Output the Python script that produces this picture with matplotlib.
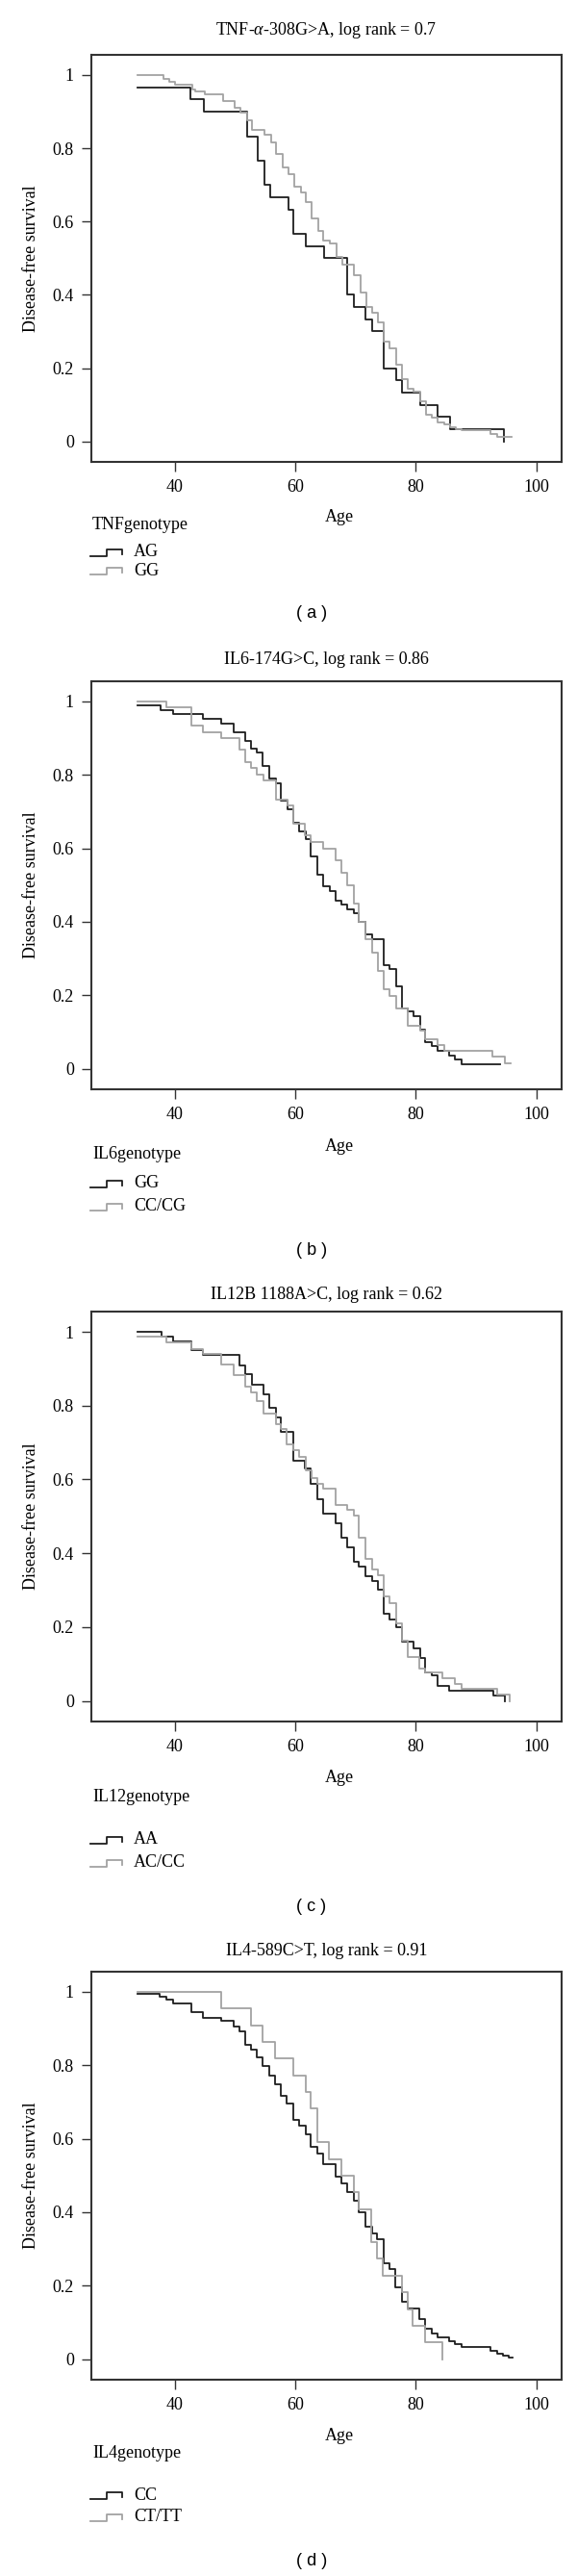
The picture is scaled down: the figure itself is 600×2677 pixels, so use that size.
import matplotlib
matplotlib.use('Agg')
import matplotlib.pyplot as plt
from matplotlib.lines import Line2D

W, H = 600, 2677
plt.rcParams['font.family'] = ['Liberation Serif', 'DejaVu Serif']
plt.rcParams['mathtext.fontset'] = 'custom'
plt.rcParams['mathtext.rm'] = 'Liberation Serif'
plt.rcParams['mathtext.it'] = 'Liberation Serif:italic'

# ---- data (age, survival) ----
tnf_ag_age = [33.9, 42.7, 44.8, 52.0, 53.8, 54.9, 55.8, 58.9, 59.7, 61.7, 64.8,
              68.7, 69.8, 71.7, 72.7, 74.7, 76.7, 77.8, 80.7, 83.7, 85.7, 94.7]
tnf_ag_surv = [0.967, 0.933, 0.9, 0.833, 0.767, 0.7, 0.667, 0.633, 0.567, 0.533, 0.5,
               0.4, 0.367, 0.333, 0.3, 0.2, 0.167, 0.133, 0.1, 0.067, 0.033, 0.0]
tnf_gg_age = [33.9, 38.2, 39.1, 40.0, 43.0, 43.4, 45.1, 48.0, 49.9, 50.9, 52.0, 52.9,
              54.9, 56.0, 56.9, 57.9, 58.9, 59.9, 60.9, 61.8, 62.8, 63.8, 64.7, 65.8,
              66.8, 67.8, 69.8, 70.8, 71.8, 72.7, 73.7, 74.7, 75.7, 76.7, 77.7, 78.6,
              79.6, 80.7, 81.7, 82.7, 83.6, 84.7, 85.7, 86.7, 87.6, 92.4, 93.5, 95.9]
tnf_gg_surv = [1.0, 0.990, 0.982, 0.973, 0.960, 0.955, 0.947, 0.929, 0.911, 0.898, 0.876, 0.850,
               0.837, 0.817, 0.784, 0.749, 0.730, 0.696, 0.679, 0.653, 0.609, 0.574, 0.547, 0.540,
               0.504, 0.482, 0.453, 0.407, 0.368, 0.350, 0.324, 0.271, 0.254, 0.210, 0.170, 0.144,
               0.135, 0.109, 0.074, 0.065, 0.052, 0.047, 0.039, 0.034, 0.030, 0.021, 0.011, 0.011]

il6_gg_age = [33.9, 37.7, 39.8, 44.7, 47.7, 49.8, 51.7, 52.7, 53.7, 54.6, 55.7, 56.8, 57.7, 58.7,
              59.7, 60.7, 61.7, 62.6, 63.7, 64.6, 65.7, 66.7, 67.7, 68.6, 69.7, 70.6, 71.7, 72.7,
              74.7, 75.7, 76.7, 77.7, 78.7, 79.6, 80.7, 81.6, 82.7, 83.6, 85.6, 86.5, 87.6, 94.0]
il6_gg_surv = [0.989, 0.977, 0.965, 0.954, 0.941, 0.917, 0.893, 0.871, 0.860, 0.825, 0.790, 0.777,
               0.731, 0.707, 0.670, 0.647, 0.624, 0.577, 0.529, 0.496, 0.483, 0.458, 0.448, 0.435,
               0.423, 0.400, 0.365, 0.353, 0.282, 0.271, 0.225, 0.164, 0.155, 0.142, 0.107, 0.072,
               0.062, 0.048, 0.037, 0.024, 0.011, 0.011]
il6_cc_age = [33.9, 38.7, 42.8, 44.7, 47.7, 50.7, 51.7, 52.7, 53.7, 54.8, 56.8, 58.8, 59.7, 61.6,
              62.6, 64.7, 66.7, 67.7, 68.6, 69.7, 70.6, 71.7, 72.7, 73.7, 74.7, 75.7, 76.7, 78.6,
              80.7, 81.6, 83.6, 84.7, 92.7, 94.8, 95.8]
il6_cc_surv = [1.0, 0.984, 0.935, 0.917, 0.901, 0.868, 0.836, 0.818, 0.801, 0.784, 0.734, 0.716,
               0.668, 0.635, 0.618, 0.600, 0.567, 0.533, 0.500, 0.449, 0.400, 0.352, 0.317, 0.267,
               0.217, 0.199, 0.164, 0.116, 0.103, 0.081, 0.064, 0.050, 0.033, 0.016, 0.016]

il12_aa_age = [33.9, 37.8, 39.8, 42.8, 44.7, 50.8, 51.7, 52.8, 54.8, 55.7, 56.8, 57.7, 59.7,
               61.6, 62.6, 63.7, 64.7, 66.7, 67.7, 68.6, 69.7, 70.6, 71.7, 72.7, 73.7, 74.7,
               75.6, 76.7, 77.7, 79.6, 80.7, 81.6, 82.7, 83.6, 85.6, 92.8, 94.8]
il12_aa_surv = [1.0, 0.987, 0.974, 0.950, 0.937, 0.909, 0.885, 0.856, 0.830, 0.793, 0.767, 0.730,
                0.650, 0.630, 0.587, 0.547, 0.508, 0.482, 0.443, 0.415, 0.378, 0.365, 0.339,
                0.326, 0.302, 0.236, 0.221, 0.199, 0.160, 0.143, 0.117, 0.078, 0.069, 0.041,
                0.027, 0.014, 0.0]
il12_ac_age = [33.9, 38.7, 42.8, 44.7, 47.7, 49.8, 51.7, 52.7, 53.7, 54.8, 56.8, 57.7, 58.6,
               59.7, 60.7, 61.7, 62.7, 63.7, 64.7, 66.7, 68.6, 69.7, 70.6, 71.7, 72.7, 73.7,
               74.7, 75.7, 76.7, 77.7, 78.6, 80.6, 81.6, 84.5, 86.5, 87.6, 93.5, 95.6]
il12_ac_surv = [0.987, 0.971, 0.954, 0.941, 0.911, 0.883, 0.852, 0.836, 0.813, 0.778, 0.749,
                0.737, 0.695, 0.680, 0.661, 0.624, 0.604, 0.587, 0.574, 0.530, 0.517, 0.502,
                0.443, 0.384, 0.356, 0.340, 0.282, 0.266, 0.210, 0.163, 0.119, 0.088, 0.078,
                0.062, 0.047, 0.032, 0.017, 0.0]

il4_cc_age = [33.9, 37.6, 38.7, 39.8, 42.8, 44.7, 47.7, 49.8, 50.8, 51.7, 52.7, 53.7, 54.6, 55.7,
              56.7, 57.7, 58.6, 59.7, 60.7, 61.7, 62.6, 63.7, 64.6, 66.7, 67.7, 68.6, 69.7, 70.6,
              71.7, 72.7, 73.6, 74.7, 75.6, 76.6, 77.7, 78.7, 80.6, 81.6, 82.6, 83.6, 85.6, 86.5,
              87.6, 92.4, 93.5, 94.5, 95.5, 96.0]
il4_cc_surv = [0.994, 0.988, 0.978, 0.969, 0.944, 0.928, 0.921, 0.906, 0.893, 0.856, 0.842, 0.823,
               0.797, 0.773, 0.749, 0.718, 0.695, 0.651, 0.635, 0.611, 0.578, 0.561, 0.530, 0.498,
               0.478, 0.454, 0.431, 0.401, 0.360, 0.342, 0.327, 0.261, 0.246, 0.195, 0.156, 0.138,
               0.108, 0.082, 0.071, 0.058, 0.049, 0.040, 0.033, 0.023, 0.016, 0.010, 0.003, 0.003]
il4_ct_age = [33.9, 47.7, 52.7, 54.6, 56.7, 59.7, 61.7, 62.6, 63.7, 65.6, 67.7, 69.7, 70.6,
              72.6, 73.6, 74.6, 77.7, 78.6, 79.5, 81.5, 84.5]
il4_ct_surv = [1.0, 0.955, 0.909, 0.864, 0.818, 0.773, 0.727, 0.682, 0.591, 0.545, 0.5, 0.455,
               0.409, 0.318, 0.273, 0.227, 0.182, 0.136, 0.091, 0.045, 0.0]

titles = ['TNF-$\\mathit{\\alpha}$-308G>A, log rank = 0.7', 'IL6-174G>C, log rank = 0.86',
          'IL12B 1188A>C, log rank = 0.62', 'IL4-589C>T, log rank = 0.91']
legend_titles = ['TNFgenotype', 'IL6genotype', 'IL12genotype', 'IL4genotype']
legend_labels = [('AG', 'GG'), ('GG', 'CC/CG'), ('AA', 'AC/CC'), ('CC', 'CT/TT')]
panel_tags = ['( a )', '( b )', '( c )', '( d )']
yticks = [0, 0.2, 0.4, 0.6, 0.8, 1.0]
yticklabels = ['0', '0.2', '0.4', '0.6', '0.8', '1']
xticks = [40, 60, 80, 100]

series = [((tnf_ag_age, tnf_ag_surv), (tnf_gg_age, tnf_gg_surv)),
          ((il6_gg_age, il6_gg_surv), (il6_cc_age, il6_cc_surv)),
          ((il12_aa_age, il12_aa_surv), (il12_ac_age, il12_ac_surv)),
          ((il4_cc_age, il4_cc_surv), (il4_ct_age, il4_ct_surv))]

# pixel layout: frame top, frame bottom, title y, Age y, legend title y, entries y, tag y
layout = [(57, 480, 32, 537, 545, (574, 593), 638),
          (708, 1132, 685, 1191, 1200, (1230, 1254), 1300),
          (1363, 1789, 1345, 1847, 1867, (1912, 1936), 1982),
          (2049, 2473, 2028, 2532, 2549, (2593, 2616), 2661)]

DARK = '#1e1e1e'
GREY = '#a3a3a3'
FS = 13

fig = plt.figure(figsize=(W / 100, H / 100), dpi=100)


def fxy(x, y):
    return x / W, 1 - y / H


left, right = 95, 584
for i in range(4):
    top, bot, ty, agey, lty, ey, tagy = layout[i]
    ax = fig.add_axes([left / W, 1 - bot / H, (right - left) / W, (bot - top) / H])
    for (age, surv), col in zip(series[i], (DARK, GREY)):
        ax.step(age, surv, where='post', color=col, lw=1.3)
    ax.set_xlim(26.2, 104.2)
    ax.set_ylim(-0.056, 1.055)
    ax.set_xticks(xticks)
    ax.set_yticks(yticks)
    ax.set_yticklabels(yticklabels)
    ax.tick_params(direction='out', length=7, width=1, labelsize=FS, color='#333333',
                   pad=6)
    for sp in ax.spines.values():
        sp.set_linewidth(1.5)
        sp.set_color('#333333')
    ax.set_ylabel('Disease-free survival', fontsize=FS)
    ax.yaxis.set_label_coords(-0.11, 0.5)

    fig.text(*fxy(339.5, ty), titles[i], ha='center', va='center', fontsize=FS)
    fig.text(*fxy(353, agey), 'Age', ha='center', va='center', fontsize=FS)
    fig.text(*fxy(96, lty), legend_titles[i], ha='left', va='center', fontsize=FS)
    for lab, yy, col in zip(legend_labels[i], ey, (DARK, GREY)):
        xs = [94, 111, 111, 127, 127]
        ys = [yy + 4, yy + 4, yy - 3, yy - 3, yy + 2]
        fig.add_artist(Line2D([x / W for x in xs], [1 - y / H for y in ys],
                              transform=fig.transFigure, color=col, lw=1.3))
        fig.text(*fxy(139, yy), lab, ha='left', va='center', fontsize=FS)
    fig.text(*fxy(324, tagy), panel_tags[i], ha='center', va='center', fontsize=FS,
             family=['Liberation Sans', 'DejaVu Sans'])

fig.savefig('out.png', dpi=100, facecolor='white')
